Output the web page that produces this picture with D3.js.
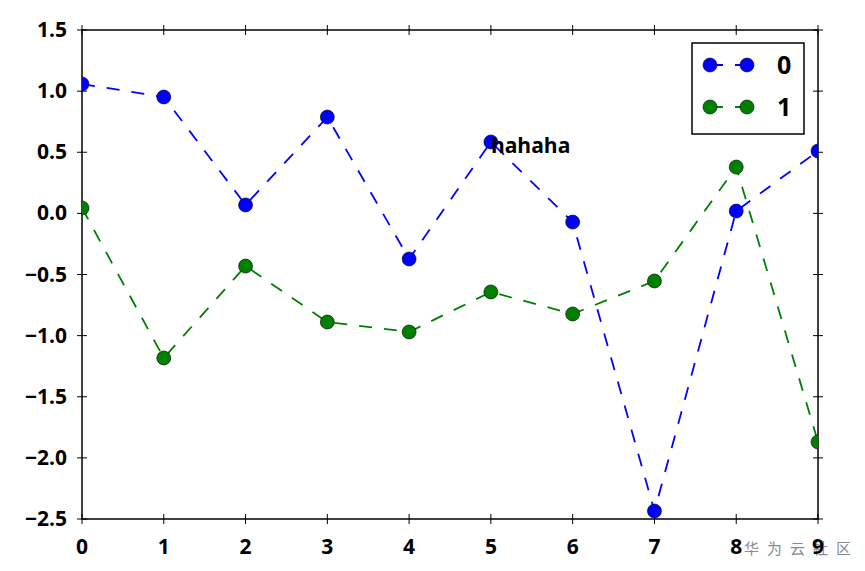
<!DOCTYPE html>
<html><head><meta charset="utf-8">
<script src="https://cdn.jsdelivr.net/npm/d3@7"></script>
<style>body{margin:0;background:#fff}</style>
</head><body>
<svg id="c" width="865" height="571"></svg>
<script>
const xs = [0,1,2,3,4,5,6,7,8,9];
const series0 = [1.058,0.952,0.069,0.788,-0.373,0.584,-0.071,-2.435,0.019,0.51];
const series1 = [0.044,-1.183,-0.431,-0.889,-0.970,-0.643,-0.823,-0.553,0.379,-1.870];
const seriesNames = ["0","1"];
const colors = ["#0000ff","#008000"];
const yTicks = [-2.5,-2.0,-1.5,-1.0,-0.5,0.0,0.5,1.0,1.5];
const xTicks = [0,1,2,3,4,5,6,7,8,9];

const svg = d3.select("#c");
const L=82,R=818,T=30,B=519;
const x = d3.scaleLinear().domain([0,9]).range([L,R]);
const y = d3.scaleLinear().domain([-2.5,1.5]).range([B,T]);
const font = "'Open Sans', sans-serif";

// watermark (under the tick labels)
svg.append("text").attr("x",744).attr("y",554).attr("font-family","'Noto Sans CJK SC', sans-serif")
  .attr("font-size",15).attr("fill","#8a8a8a").attr("letter-spacing",8).text("华为云社区");

// axes frame
svg.append("rect").attr("x",L).attr("y",T).attr("width",R-L).attr("height",B-T)
  .attr("fill","none").attr("stroke","#000").attr("stroke-width",1.5);

const g = svg.append("g");
yTicks.forEach(v=>{
  g.append("line").attr("x1",L-5).attr("x2",L+5).attr("y1",y(v)).attr("y2",y(v)).attr("stroke","#000");
  g.append("line").attr("x1",R-5).attr("x2",R+5).attr("y1",y(v)).attr("y2",y(v)).attr("stroke","#000");
  g.append("text").attr("x",L-15).attr("y",y(v)+7).attr("text-anchor","end")
   .attr("font-family",font).attr("font-weight","bold").attr("font-size",21)
   .text(d3.format(".1f")(v).replace("-","\u2212"));
});
xTicks.forEach(v=>{
  g.append("line").attr("x1",x(v)).attr("x2",x(v)).attr("y1",B-5).attr("y2",B+5).attr("stroke","#000");
  g.append("line").attr("x1",x(v)).attr("x2",x(v)).attr("y1",T-5).attr("y2",T+5).attr("stroke","#000");
  g.append("text").attr("x",x(v)).attr("y",B+35).attr("text-anchor","middle")
   .attr("font-family",font).attr("font-weight","bold").attr("font-size",21).text(v);
});

const clip = svg.append("defs").append("clipPath").attr("id","cp");
clip.append("rect").attr("x",L).attr("y",T).attr("width",R-L).attr("height",B-T);

const line = d3.line().x((d,i)=>x(xs[i])).y(d=>y(d));
[series0,series1].forEach((s,k)=>{
  svg.append("path").attr("d",line(s)).attr("fill","none").attr("stroke",colors[k])
    .attr("stroke-width",1.8).attr("stroke-dasharray","13,12").attr("clip-path","url(#cp)");
  svg.append("g").attr("clip-path","url(#cp)").selectAll("circle").data(s).join("circle")
    .attr("cx",(d,i)=>x(xs[i])).attr("cy",d=>y(d)).attr("r",7)
    .attr("fill",colors[k]).attr("stroke","#000").attr("stroke-width",0.6);
});

// annotation
svg.append("text").attr("x",x(5)).attr("y",y(0.5)+1).attr("font-family",font)
  .attr("font-weight","bold").attr("font-size",21).text("hahaha");

// legend
const lg = svg.append("g");
lg.append("rect").attr("x",692).attr("y",43).attr("width",112).attr("height",91)
  .attr("fill","#fff").attr("stroke","#000").attr("stroke-width",1.5);
seriesNames.forEach((n,k)=>{
  const ly = 65 + k*42;
  lg.append("line").attr("x1",710).attr("x2",747).attr("y1",ly).attr("y2",ly)
    .attr("stroke",colors[k]).attr("stroke-width",1.8).attr("stroke-dasharray","13,12,13");
  [710,747].forEach(cx=>lg.append("circle").attr("cx",cx).attr("cy",ly).attr("r",7)
    .attr("fill",colors[k]).attr("stroke","#000").attr("stroke-width",0.6));
  lg.append("text").attr("x",777).attr("y",ly+9).attr("font-family",font)
    .attr("font-weight","bold").attr("font-size",25).text(n);
});
</script>
</body></html>
